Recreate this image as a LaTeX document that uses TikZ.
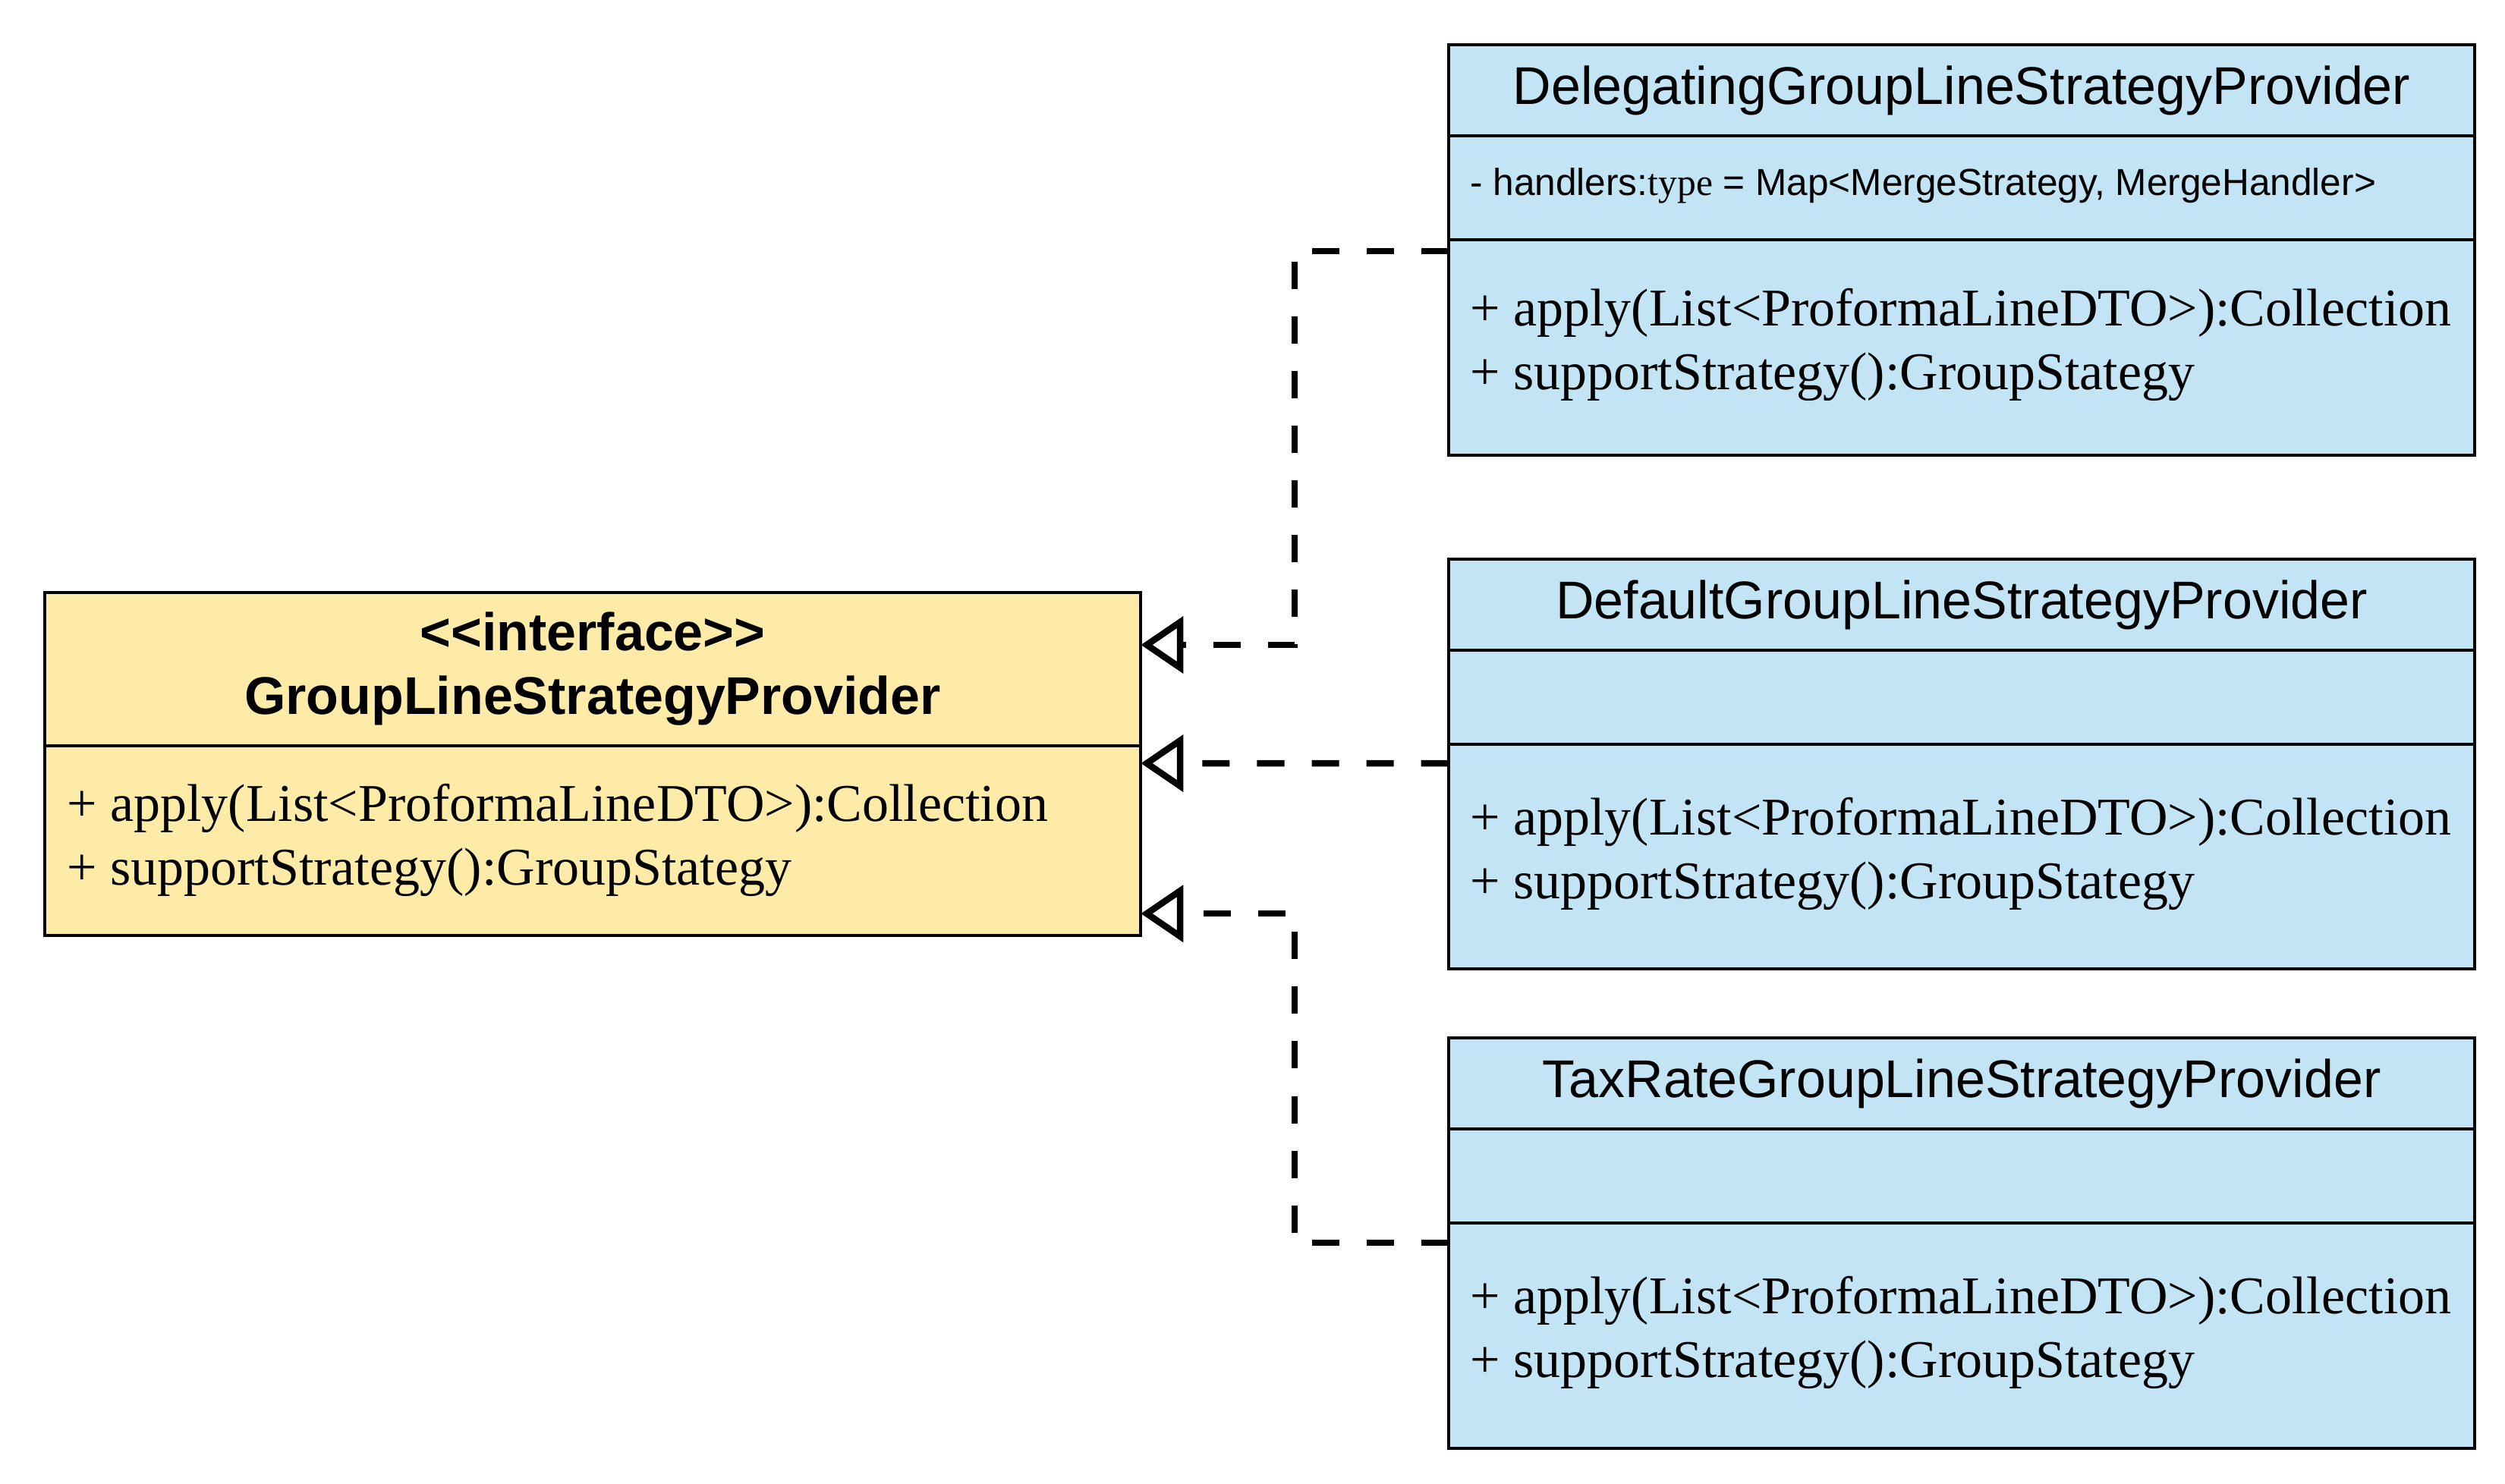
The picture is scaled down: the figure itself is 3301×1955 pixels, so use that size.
\documentclass[tikz,border=0pt]{standalone}
\usepackage{fontspec}
\setmainfont{Liberation Serif}
\setsansfont{Liberation Sans}
\usepackage{tikz}
\usetikzlibrary{positioning,arrows.meta}
\definecolor{ifaceyellow}{RGB}{255,235,168}
\definecolor{provblue}{RGB}{194,228,245}

\begin{document}
\begin{tikzpicture}[x=0.01cm, y=-0.01cm,
  compart/.style={draw=black, line width=0.04cm, fill=provblue, minimum width=13.52cm, inner sep=0pt, outer sep=0pt},
  ifacepart/.style={compart, fill=ifaceyellow, minimum width=14.44cm},
  titletext/.style={font=\sffamily\fontsize{19.9}{23.9}\selectfont},
  methodtext/.style={align=left, inner sep=0pt, font=\rmfamily\fontsize{19.9}{23.9}\selectfont},
  attrtext/.style={inner sep=0pt, font=\sffamily\fontsize{14.1}{17}\selectfont},
  realize/.style={line width=0.085cm, dash pattern=on 0.36cm off 0.36cm, -{Triangle[open, length=0.56cm, width=0.74cm, line width=0.085cm]}}]
\useasboundingbox (0,0) rectangle (3301,1955);
\node[ifacepart, titletext, align=center, minimum height=2.02cm] (ifaceName) at (781,882) {\textbf{<\kern0pt<interface>\kern0pt>}\\\textbf{GroupLineStrategyProvider}};
\node[ifacepart, minimum height=2.50cm, below=0pt of ifaceName] (ifaceOps) {};
\node[methodtext, right=0.29cm of ifaceOps.west, yshift=0.01cm] (ifaceMeth) {+ apply(List<ProformaLineDTO>):Collection\\+ supportStrategy():GroupStategy};

\node[compart, titletext, minimum height=1.20cm] (delegName) at (2585,119) {DelegatingGroupLineStrategyProvider};
\node[compart, minimum height=1.37cm, below=0pt of delegName] (delegAttr) {};
\node[compart, minimum height=2.84cm, below=0pt of delegAttr] (delegOps) {};
\node[attrtext, right=0.28cm of delegAttr.west, yshift=0.03cm] (delegField) {- handlers:{\rmfamily type} = Map<MergeStrategy, MergeHandler>};

\node[compart, titletext, minimum height=1.20cm] (dfltName) at (2585,797) {DefaultGroupLineStrategyProvider};
\node[compart, minimum height=1.24cm, below=0pt of dfltName] (dfltAttr) {};
\node[compart, minimum height=2.96cm, below=0pt of dfltAttr] (dfltOps) {};

\node[compart, titletext, minimum height=1.20cm] (taxName) at (2585,1428) {TaxRateGroupLineStrategyProvider};
\node[compart, minimum height=1.24cm, below=0pt of taxName] (taxAttr) {};
\node[compart, minimum height=2.97cm, below=0pt of taxAttr] (taxOps) {};

\foreach \cls in {deleg,dflt,tax} {
    \node[methodtext, right=0.28cm of \cls Ops.west, yshift=0.04cm] (\cls Meth) {+ apply(List<ProformaLineDTO>):Collection\\+ supportStrategy():GroupStategy};
}

\coordinate (busX) at (1706,0);
\coordinate (delegOut) at ([yshift=-0.15cm]delegOps.north west);
\coordinate (dfltOut) at ([yshift=-0.25cm]dfltOps.north west);
\coordinate (taxOut) at ([yshift=-0.26cm]taxOps.north west);
\coordinate (ifaceIn1) at ([yshift=-0.69cm]ifaceName.north east);
\coordinate (ifaceIn2) at ([yshift=-0.23cm]ifaceOps.north east);
\coordinate (ifaceIn3) at ([yshift=0.29cm]ifaceOps.south east);
\draw[realize] (delegOut) -- (delegOut -| busX) |- (ifaceIn1);
\draw[realize] (dfltOut) -- (ifaceIn2);
\draw[realize] (taxOut) -- (taxOut -| busX) |- (ifaceIn3);
\end{tikzpicture}
\end{document}
